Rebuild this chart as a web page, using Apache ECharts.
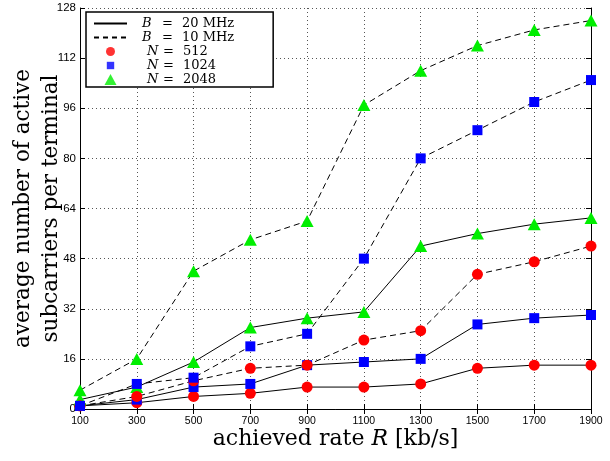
<!DOCTYPE html>
<html>
<head>
<meta charset="utf-8">
<script src="https://cdn.jsdelivr.net/npm/echarts@6/dist/echarts.min.js"></script>
<style>html,body{margin:0;padding:0;background:#fff}#c{width:610px;height:461px}</style>
</head>
<body>
<div id="c"></div>
<script>
var rates = ['100','300','500','700','900','1100','1300','1500','1700','1900'];
var b20_n512  = [1, 2, 4, 5, 7, 7, 8, 13, 14, 14];
var b20_n1024 = [1, 3, 7, 8, 14, 15, 16, 27, 29, 30];
var b20_n2048 = [3, 7, 15, 26, 29, 31, 52, 56, 59, 61];
var b10_n512  = [1, 4, 9, 13, 14, 22, 25, 43, 47, 52];
var b10_n1024 = [1, 8, 10, 20, 24, 48, 80, 89, 98, 105];
var b10_n2048 = [6, 16, 44, 54, 60, 97, 108, 116, 121, 124];
var legendNames = ['B = 20 MHz','B = 10 MHz','N = 512','N = 1024','N = 2048'];

var serif = 'DejaVu Serif, Liberation Serif, serif';
var sans = 'Liberation Sans, Arial, sans-serif';

function dataSeries(name, data, dashed, symbol, size, color) {
  return {
    name: name, type: 'line', data: data, xAxisIndex: 0, yAxisIndex: 0,
    lineStyle: {color: '#000', width: 1, type: dashed ? [6,4] : 'solid'},
    symbol: symbol, symbolSize: size, showAllSymbol: true,
    itemStyle: {color: color, borderWidth: 0},
    z: 3
  };
}

var clear = {color: 'rgba(0,0,0,0)', borderWidth: 0};
var chart = echarts.init(document.getElementById('c'), null, {renderer: 'canvas'});
chart.setOption({
  animation: false,
  backgroundColor: '#fff',
  grid: {left: 80, right: 19, top: 8, bottom: 52, containLabel: false, outerBoundsMode: 'none'},
  legend: {
    data: [
      {name: legendNames[0], itemStyle: clear},
      {name: legendNames[1], itemStyle: clear},
      {name: legendNames[2], icon: 'path://M0,0M12,12M1.5,6A4.5,4.5,0,1,1,10.5,6A4.5,4.5,0,1,1,1.5,6Z', itemStyle: {color: '#ff0000'}},
      {name: legendNames[3], icon: 'path://M0,0M12,12M2.3,2.3L9.7,2.3L9.7,9.7L2.3,9.7Z', itemStyle: {color: '#0000ff'}},
      {name: legendNames[4], icon: 'path://M0,0M12,12M6,0.5L12,11.5L0,11.5Z', itemStyle: {color: '#00ee00'}}
    ],
    orient: 'vertical',
    left: 86, top: 12,
    backgroundColor: '#fff',
    borderColor: '#000', borderWidth: 1.5,
    padding: [5, 39, 1, 7],
    itemGap: 1,
    itemWidth: 33, itemHeight: 12,
    symbolKeepAspect: true,
    selectedMode: false,
    formatter: function (n) {
      var v = n.charAt(0);
      var rest = n.slice(4);
      return '{' + (v === 'B' ? 'b' : 'n') + '|' + v + '}{e|=}{r|' + rest + '}';
    },
    textStyle: {
      fontFamily: serif, fontSize: 13, color: '#000', lineHeight: 12,
      rich: {
        b: {fontFamily: serif, fontSize: 13, fontStyle: 'italic', color: '#000', width: 20, padding: [0,0,0,10], lineHeight: 12},
        n: {fontFamily: serif, fontSize: 13, fontStyle: 'italic', color: '#000', width: 16, padding: [0,0,0,15], lineHeight: 12},
        e: {fontFamily: serif, fontSize: 13, color: '#000', width: 20, lineHeight: 12},
        r: {fontFamily: serif, fontSize: 13, color: '#000', lineHeight: 12}
      }
    }
  },
  xAxis: [{
    type: 'category', data: rates, boundaryGap: false, position: 'bottom',
    name: 'achieved rate {i|R} [kb/s]', nameLocation: 'middle', nameGap: 19,
    nameMoveOverlap: false,
    nameTextStyle: {fontFamily: serif, fontSize: 22, color: '#000',
      rich: {i: {fontFamily: serif, fontSize: 22, fontStyle: 'italic', color: '#000'}}},
    axisLine: {lineStyle: {color: '#000', width: 1}},
    axisTick: {inside: true, length: 5, lineStyle: {color: '#000'}},
    axisLabel: {fontFamily: sans, fontSize: 10.5, color: '#000', margin: 7},
    splitLine: {show: true, lineStyle: {color: '#555', width: 1, type: [1,3]}}
  }, {
    type: 'category', data: rates, boundaryGap: false, position: 'top',
    axisLine: {lineStyle: {color: '#000', width: 1}},
    axisTick: {inside: true, length: 5, lineStyle: {color: '#000'}},
    axisLabel: {show: false}, splitLine: {show: false}
  }],
  yAxis: [{
    type: 'value', min: 0, max: 128, interval: 16, position: 'left',
    name: 'average number of active\nsubcarriers per terminal',
    nameLocation: 'middle', nameGap: 15, nameRotate: 90,
    nameMoveOverlap: false,
    nameTextStyle: {fontFamily: serif, fontSize: 21.5, color: '#000', lineHeight: 28},
    axisLine: {show: true, lineStyle: {color: '#000', width: 1}},
    axisTick: {show: true, inside: true, length: 5, lineStyle: {color: '#000'}},
    axisLabel: {fontFamily: sans, fontSize: 11.5, color: '#000', margin: 4},
    splitLine: {show: true, lineStyle: {color: '#555', width: 1, type: [1,3]}}
  }, {
    type: 'value', min: 0, max: 128, interval: 16, position: 'right',
    axisLine: {show: true, lineStyle: {color: '#000', width: 1}},
    axisTick: {show: true, inside: true, length: 5, lineStyle: {color: '#000'}},
    axisLabel: {show: false}, splitLine: {show: false}
  }],
  series: [
    dataSeries('s1', b20_n512, false, 'circle', 11, '#ff0000'),
    dataSeries('s2', b20_n1024, false, 'rect', 10, '#0000ff'),
    dataSeries('s3', b20_n2048, false, 'triangle', [13,12], '#00ee00'),
    dataSeries('s4', b10_n512, true, 'circle', 11, '#ff0000'),
    dataSeries('s5', b10_n1024, true, 'rect', 10, '#0000ff'),
    dataSeries('s6', b10_n2048, true, 'triangle', [13,12], '#00ee00'),
    {name: legendNames[0], type: 'line', data: [], symbol: 'none', lineStyle: {color: '#000', width: 1}, itemStyle: {color: '#000'}},
    {name: legendNames[1], type: 'line', data: [], symbol: 'none', lineStyle: {color: '#000', width: 1, type: [5,4]}, itemStyle: {color: '#000'}},
    {name: legendNames[2], type: 'scatter', data: [], symbol: 'circle', itemStyle: {color: '#ff0000'}},
    {name: legendNames[3], type: 'scatter', data: [], symbol: 'rect', itemStyle: {color: '#0000ff'}},
    {name: legendNames[4], type: 'scatter', data: [], symbol: 'triangle', itemStyle: {color: '#00ee00'}}
  ]
});
</script>
</body>
</html>
